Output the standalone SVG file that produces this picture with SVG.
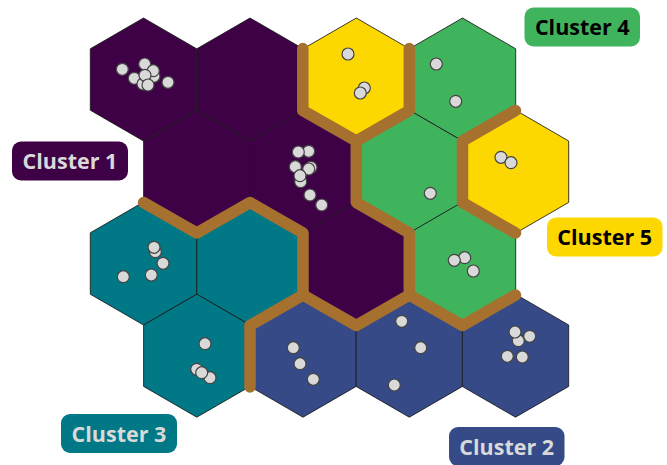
<svg xmlns="http://www.w3.org/2000/svg" width="667" height="465" viewBox="0 0 667 465">
<style>
.h{stroke:#1a1a1a;stroke-opacity:.85;stroke-width:1;stroke-linejoin:round}
.c1{fill:#3f0146}.c2{fill:#354a87}.c3{fill:#007885}.c4{fill:#40b35d}.c5{fill:#fdd800}
.p{fill:#d9d9d9;stroke:#444;stroke-width:1.2}
.b{fill:none;stroke:#a6712f;stroke-width:11.500;stroke-linecap:round;stroke-linejoin:round}
.l{font-family:"Open Sans","Noto Sans",sans-serif;font-size:21.500px;font-weight:700;text-anchor:middle}
.d{fill:#d9d9d9}.k{fill:#000}
</style>
<defs>
<polygon id="hex" points="0,-61.500 53.200,-30.700 53.200,30.700 0,61.500 -53.200,30.700 -53.200,-30.700"/>
<circle id="pt" r="6"/>
</defs>
<g id="hex-r1-1"><use href="#hex" x="143.500" y="79.500" class="h c1"/><use href="#pt" class="p" x="122.300" y="69.300"/><use href="#pt" class="p" x="144.700" y="64"/><use href="#pt" class="p" x="154" y="76.300"/><use href="#pt" class="p" x="153.300" y="70.700"/><use href="#pt" class="p" x="134.300" y="78.300"/><use href="#pt" class="p" x="143" y="84"/><use href="#pt" class="p" x="145" y="75.300"/><use href="#pt" class="p" x="148" y="85"/><use href="#pt" class="p" x="168" y="82.300"/></g>
<g id="hex-r1-2"><use href="#hex" x="250" y="79.500" class="h c1"/></g>
<g id="hex-r1-3"><use href="#hex" x="356.300" y="79.500" class="h c5"/><use href="#pt" class="p" x="348" y="54"/><use href="#pt" class="p" x="364.300" y="88"/><use href="#pt" class="p" x="360.300" y="93"/></g>
<g id="hex-r1-4"><use href="#hex" x="462.500" y="79.500" class="h c4"/><use href="#pt" class="p" x="436.300" y="64"/><use href="#pt" class="p" x="455.700" y="101.300"/></g>
<g id="hex-r2-1"><use href="#hex" x="196.800" y="171.700" class="h c1"/></g>
<g id="hex-r2-2"><use href="#hex" x="303" y="171.700" class="h c1"/><use href="#pt" class="p" x="308.700" y="151.300"/><use href="#pt" class="p" x="298.300" y="152"/><use href="#pt" class="p" x="295.300" y="166.700"/><use href="#pt" class="p" x="311" y="167.300"/><use href="#pt" class="p" x="308.700" y="169"/><use href="#pt" class="p" x="300.700" y="181.700"/><use href="#pt" class="p" x="300" y="175.700"/><use href="#pt" class="p" x="310" y="195"/><use href="#pt" class="p" x="321.700" y="205"/></g>
<g id="hex-r2-3"><use href="#hex" x="409.300" y="171.700" class="h c4"/><use href="#pt" class="p" x="430.300" y="193.300"/></g>
<g id="hex-r2-4"><use href="#hex" x="515.500" y="171.700" class="h c5"/><use href="#pt" class="p" x="501" y="157.300"/><use href="#pt" class="p" x="511" y="162.700"/></g>
<g id="hex-r3-1"><use href="#hex" x="143.500" y="263.500" class="h c3"/><use href="#pt" class="p" x="155.300" y="251.700"/><use href="#pt" class="p" x="154" y="247.300"/><use href="#pt" class="p" x="163" y="263.300"/><use href="#pt" class="p" x="151.300" y="275"/><use href="#pt" class="p" x="123.300" y="276.700"/></g>
<g id="hex-r3-2"><use href="#hex" x="250" y="263.500" class="h c3"/></g>
<g id="hex-r3-3"><use href="#hex" x="356.300" y="263.500" class="h c1"/></g>
<g id="hex-r3-4"><use href="#hex" x="462.500" y="263.500" class="h c4"/><use href="#pt" class="p" x="464.700" y="257.700"/><use href="#pt" class="p" x="454.300" y="260.300"/><use href="#pt" class="p" x="473.300" y="271"/></g>
<g id="hex-r4-1"><use href="#hex" x="196.800" y="355.700" class="h c3"/><use href="#pt" class="p" x="205" y="343.700"/><use href="#pt" class="p" x="196.700" y="369.300"/><use href="#pt" class="p" x="210" y="377.700"/><use href="#pt" class="p" x="201.700" y="372.700"/></g>
<g id="hex-r4-2"><use href="#hex" x="303" y="355.700" class="h c2"/><use href="#pt" class="p" x="293.300" y="347.700"/><use href="#pt" class="p" x="300" y="363.700"/><use href="#pt" class="p" x="313.300" y="379.300"/></g>
<g id="hex-r4-3"><use href="#hex" x="409.300" y="355.700" class="h c2"/><use href="#pt" class="p" x="401.700" y="321.300"/><use href="#pt" class="p" x="420.700" y="347.700"/><use href="#pt" class="p" x="394.300" y="385"/></g>
<g id="hex-r4-4"><use href="#hex" x="515.500" y="355.700" class="h c2"/><use href="#pt" class="p" x="518.300" y="340.700"/><use href="#pt" class="p" x="515" y="332"/><use href="#pt" class="p" x="529.700" y="336.300"/><use href="#pt" class="p" x="507.300" y="356.300"/><use href="#pt" class="p" x="522.300" y="357"/></g>
<g id="connectors">
<path class="b" d="M302.800,48.500V110.500L356.300,141L409.300,110.500V48.500"/>
<path class="b" d="M356.300,141V202.500L409.300,233V295L356.300,325.500L303,295L250,325.500V387"/>
<path class="b" d="M143.500,202.500L196.800,233L250,202.500L303,233V295"/>
<path class="b" d="M409.300,295L462.500,325.500L515.500,295"/>
<path class="b" d="M515.500,110.500L462.500,141V202.500L515.500,233"/>
</g>
<g id="cluster-1"><rect class="c1" x="12" y="141.500" width="116" height="39" rx="9"/><text class="l d" x="70" y="169">Cluster 1</text></g>
<g id="cluster-2"><rect class="c2" x="449" y="427" width="115.500" height="39" rx="9"/><text class="l d" x="506.700" y="455">Cluster 2</text></g>
<g id="cluster-3"><rect class="c3" x="61" y="414" width="116" height="39" rx="9"/><text class="l d" x="119" y="441.500">Cluster 3</text></g>
<g id="cluster-4"><rect class="c4" x="524.500" y="7.500" width="115.500" height="39" rx="9"/><text class="l k" x="582.300" y="35">Cluster 4</text></g>
<g id="cluster-5"><rect class="c5" x="547" y="217.500" width="115.500" height="39" rx="9"/><text class="l k" x="604.700" y="245">Cluster 5</text></g>
</svg>
